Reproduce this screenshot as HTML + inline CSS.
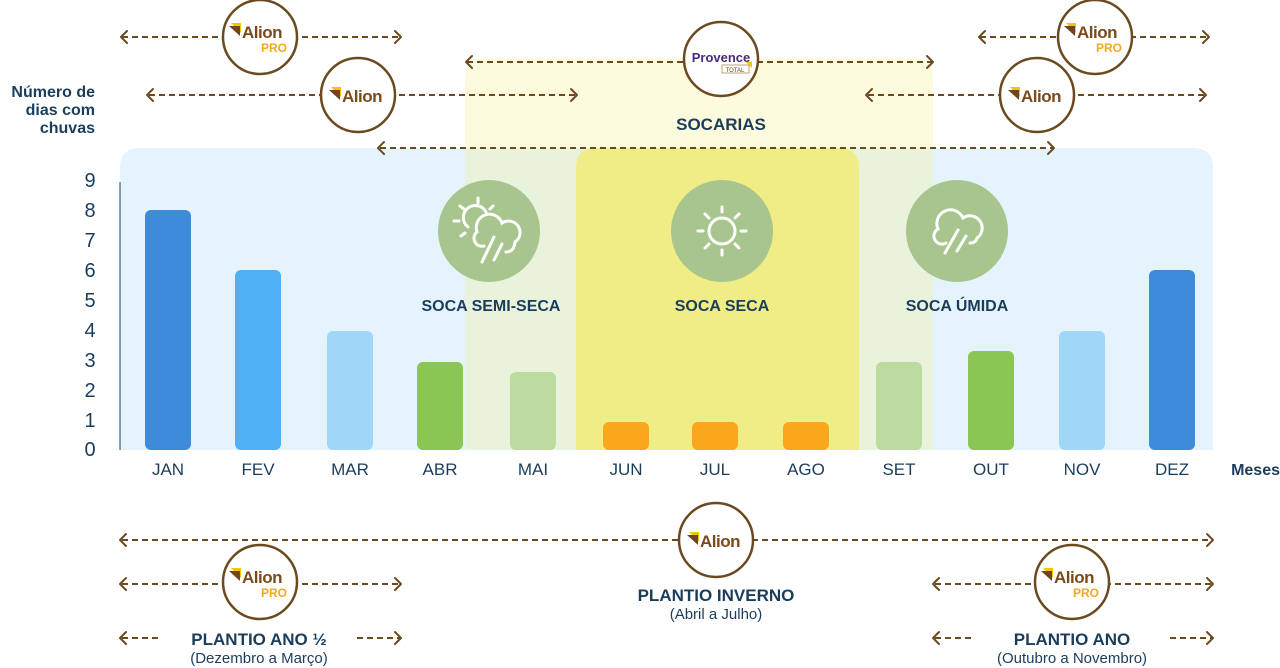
<!DOCTYPE html>
<html><head><meta charset="utf-8"><style>
html,body{margin:0;padding:0;background:#fff}
svg{display:block}
text{font-family:"Liberation Sans",sans-serif}
</style></head><body>
<svg width="1280" height="668" viewBox="0 0 1280 668" xmlns="http://www.w3.org/2000/svg">
<defs>
<g id="alion">
  <polygon points="-30,-9 -20,-9 -20,1" fill="#f3c400"/>
  <polygon points="-32,-6 -21,-6 -21,4" fill="#6e4520"/>
  <text x="-19" y="6" font-size="17" fill="#7a4a1c" font-weight="bold" letter-spacing="-0.5">Alion</text>
</g>
<g id="alionpro">
  <use href="#alion" y="-6"/>
  <text x="13" y="14" font-size="12" fill="#f5a81c" text-anchor="middle" font-weight="bold">PRO</text>
</g>
</defs>

<path d="M120,450 V168 Q120,148 140,148 H1193 Q1213,148 1213,168 V450 Z" fill="#e4f3fc"/>
<path d="M465,450 V78 Q465,58 485,58 H913 Q933,58 933,78 V450 Z" fill="#fdfbdd"/>
<rect x="465" y="148" width="468" height="302" fill="#e9f3dc"/>
<path d="M576,450 V168 Q576,148 596,148 H839 Q859,148 859,168 V450 Z" fill="#f0ed86"/>

<g font-size="20" fill="#1b3d5c" text-anchor="middle">
<text x="90" y="187">9</text><text x="90" y="217">8</text><text x="90" y="247">7</text>
<text x="90" y="277">6</text><text x="90" y="307">5</text><text x="90" y="337">4</text>
<text x="90" y="367">3</text><text x="90" y="397">2</text><text x="90" y="427">1</text>
<text x="90" y="456">0</text>
</g>
<line x1="120" y1="182" x2="120" y2="450" stroke="#1b3d5c" stroke-width="1"/>
<g font-size="16" fill="#1b3d5c" font-weight="bold" text-anchor="end">
<text x="95" y="97">Número de</text><text x="95" y="115">dias com</text><text x="95" y="133">chuvas</text>
</g>

<g>
<rect x="145" y="210" width="46" height="240" rx="6" fill="#3d8bd9"/>
<rect x="235" y="270" width="46" height="180" rx="6" fill="#4fb0f5"/>
<rect x="327" y="331" width="46" height="119" rx="6" fill="#a0d6f8"/>
<rect x="417" y="362" width="46" height="88" rx="6" fill="#8bc554"/>
<rect x="510" y="372" width="46" height="78" rx="6" fill="#bddba0"/>
<rect x="603" y="422" width="46" height="28" rx="6" fill="#f9a81b"/>
<rect x="692" y="422" width="46" height="28" rx="6" fill="#f9a81b"/>
<rect x="783" y="422" width="46" height="28" rx="6" fill="#f9a81b"/>
<rect x="876" y="362" width="46" height="88" rx="6" fill="#bddba0"/>
<rect x="968" y="351" width="46" height="99" rx="6" fill="#8bc554"/>
<rect x="1059" y="331" width="46" height="119" rx="6" fill="#a0d6f8"/>
<rect x="1149" y="270" width="46" height="180" rx="6" fill="#3d8bd9"/>
</g>
<g font-size="17" fill="#1b3d5c" text-anchor="middle">
<text x="168" y="475">JAN</text><text x="258" y="475">FEV</text><text x="350" y="475">MAR</text>
<text x="440" y="475">ABR</text><text x="533" y="475">MAI</text><text x="626" y="475">JUN</text>
<text x="715" y="475">JUL</text><text x="806" y="475">AGO</text><text x="899" y="475">SET</text>
<text x="991" y="475">OUT</text><text x="1082" y="475">NOV</text><text x="1172" y="475">DEZ</text>
</g>
<text x="1280" y="475" font-size="16" font-weight="bold" fill="#1b3d5c" text-anchor="end">Meses</text>

<circle cx="489" cy="231" r="51" fill="#a9c58e"/>
<circle cx="722" cy="231" r="51" fill="#a9c58e"/>
<circle cx="957" cy="231" r="51" fill="#a9c58e"/>
<g stroke="#fff" stroke-width="3" fill="none" stroke-linecap="round">
  <path d="M468,227 A12,12 0 1 1 486,212"/>
  <line x1="478" y1="198" x2="478" y2="203"/><line x1="460" y1="206" x2="464" y2="209"/>
  <line x1="454" y1="221" x2="459" y2="221"/><line x1="461" y1="236" x2="465" y2="233"/>
  <line x1="493" y1="206" x2="490" y2="209"/>
  <path d="M484,246 A8,8 0 0 1 477,232 A13,13 0 0 1 502,223 A10,10 0 0 1 515,242 Q514,252 506,252"/>
  <line x1="494" y1="237" x2="482" y2="262"/><line x1="502" y1="244" x2="494" y2="260"/>
  <circle cx="722" cy="231" r="13"/>
  <line x1="722" y1="207" x2="722" y2="212"/><line x1="722" y1="250" x2="722" y2="255"/>
  <line x1="698" y1="231" x2="703" y2="231"/><line x1="741" y1="231" x2="746" y2="231"/>
  <line x1="705" y1="214" x2="709" y2="218"/><line x1="735" y1="244" x2="739" y2="248"/>
  <line x1="739" y1="214" x2="735" y2="218"/><line x1="705" y1="248" x2="709" y2="244"/>
  <path d="M946,243 A8,8 0 0 1 938,229 A13,13 0 0 1 963,218 A10,10 0 0 1 977,238 Q976,243 970,243"/>
  <line x1="958" y1="230" x2="945" y2="253"/><line x1="966" y1="236" x2="957" y2="251"/>
</g>
<g font-size="16" font-weight="bold" fill="#1b3d5c" text-anchor="middle">
<text x="491" y="311">SOCA SEMI-SECA</text>
<text x="722" y="311">SOCA SECA</text>
<text x="957" y="311">SOCA ÚMIDA</text>
<text x="721" y="130" font-size="17">SOCARIAS</text>
</g>

<g stroke="#6b4a1f" stroke-width="2" fill="none">
<g stroke-dasharray="6,4">
<line x1="122" y1="37" x2="400" y2="37"/><line x1="980" y1="37" x2="1208" y2="37"/>
<line x1="467" y1="62" x2="932" y2="62"/>
<line x1="149" y1="95" x2="576" y2="95"/><line x1="868" y1="95" x2="1205" y2="95"/>
<line x1="380" y1="148" x2="1053" y2="148"/>
<line x1="122" y1="540" x2="1212" y2="540"/>
<line x1="122" y1="584" x2="400" y2="584"/><line x1="935" y1="584" x2="1212" y2="584"/>
<line x1="122" y1="638" x2="162" y2="638"/><line x1="357" y1="638" x2="400" y2="638"/>
<line x1="935" y1="638" x2="975" y2="638"/><line x1="1170" y1="638" x2="1212" y2="638"/>
</g>
<g stroke-linecap="round" stroke-linejoin="round">
<path d="M127,31 L121,37 L127,43"/><path d="M395,31 L401,37 L395,43"/>
<path d="M985,31 L979,37 L985,43"/><path d="M1203,31 L1209,37 L1203,43"/>
<path d="M472,56 L466,62 L472,68"/><path d="M927,56 L933,62 L927,68"/>
<path d="M153,89 L147,95 L153,101"/><path d="M571,89 L577,95 L571,101"/>
<path d="M872,89 L866,95 L872,101"/><path d="M1200,89 L1206,95 L1200,101"/>
<path d="M384,142 L378,148 L384,154"/><path d="M1048,142 L1054,148 L1048,154"/>
<path d="M126,534 L120,540 L126,546"/><path d="M1207,534 L1213,540 L1207,546"/>
<path d="M126,578 L120,584 L126,590"/><path d="M395,578 L401,584 L395,590"/>
<path d="M939,578 L933,584 L939,590"/><path d="M1207,578 L1213,584 L1207,590"/>
<path d="M126,632 L120,638 L126,644"/><path d="M395,632 L401,638 L395,644"/>
<path d="M939,632 L933,638 L939,644"/><path d="M1207,632 L1213,638 L1207,644"/>
</g>
</g>

<g fill="#fff" stroke="#6b4a1f" stroke-width="2.5">
<circle cx="260" cy="37" r="37"/><circle cx="721" cy="59" r="37"/>
<circle cx="358" cy="95" r="37"/><circle cx="1095" cy="37" r="37"/>
<circle cx="1037" cy="95" r="37"/><circle cx="716" cy="540" r="37"/>
<circle cx="260" cy="582" r="37"/><circle cx="1072" cy="582" r="37"/>
</g>
<use href="#alionpro" x="261" y="38"/>
<use href="#alionpro" x="1096" y="38"/>
<use href="#alionpro" x="261" y="583"/>
<use href="#alionpro" x="1073" y="583"/>
<use href="#alion" x="361" y="96"/>
<use href="#alion" x="1040" y="96"/>
<use href="#alion" x="719" y="541"/>
<text x="721" y="62" font-size="13" font-weight="bold" fill="#4a2a7a" text-anchor="middle">Provence</text>
<rect x="722" y="65" width="27" height="8" fill="#fff" stroke="#b58a5a" stroke-width="0.8"/>
<text x="735" y="72" font-size="6" fill="#6b4a1f" text-anchor="middle">TOTAL</text>
<polygon points="746,62 752,62 752,68" fill="#f3c400"/>

<g fill="#1b3d5c" text-anchor="middle">
<text x="716" y="601" font-size="17" font-weight="bold">PLANTIO INVERNO</text>
<text x="716" y="619" font-size="15">(Abril a Julho)</text>
<text x="259" y="645" font-size="17" font-weight="bold">PLANTIO ANO ½</text>
<text x="259" y="663" font-size="15">(Dezembro a Março)</text>
<text x="1072" y="645" font-size="17" font-weight="bold">PLANTIO ANO</text>
<text x="1072" y="663" font-size="15">(Outubro a Novembro)</text>
</g>
</svg>
</body></html>
